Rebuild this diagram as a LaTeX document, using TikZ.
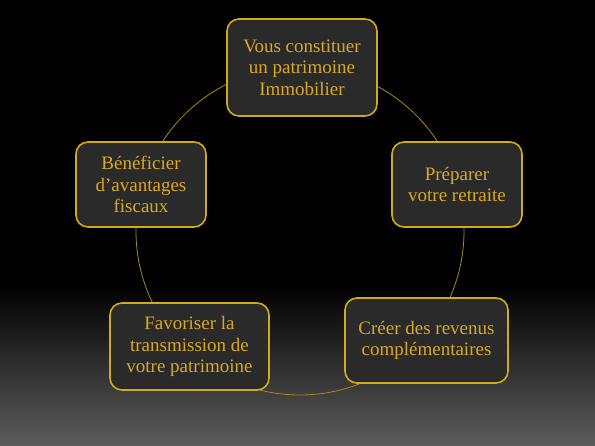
\documentclass[tikz,border=0pt]{standalone}
\usepackage{fontspec}
\setmainfont{Liberation Serif}
\definecolor{gold}{HTML}{D8A828}
\definecolor{goldborder}{HTML}{D2AA1E}
\definecolor{boxfill}{HTML}{2A2A2A}
\definecolor{ringcol}{HTML}{A8881E}
\definecolor{bottomgray}{HTML}{5C5C5C}
\begin{document}
\begin{tikzpicture}[x=1pt,y=-1pt,
  box/.style={draw=goldborder, line width=1.6pt, fill=boxfill, rounded corners=12pt,
    text=gold, align=center, font=\fontsize{19}{21.5}\selectfont, inner sep=0pt},
  ring/.style={draw=ringcol, line width=0.8pt}]
\useasboundingbox (0,0) rectangle (595,445);
\fill[black] (0,0) rectangle (595,285);
\shade[top color=black, bottom color=bottomgray] (0,285) rectangle (595,445);
\coordinate (C) at (300,231);
\draw[ring] (C) circle[radius=164pt];
\node[box, minimum width=150pt, minimum height=97pt] (n1) at (302,67.5) {Vous constituer\\un patrimoine\\Immobilier};
\node[box, minimum width=130pt, minimum height=85pt] (n2) at (457,184.5) {Préparer\\votre retraite};
\node[box, minimum width=163pt, minimum height=85pt] (n3) at (426.5,340.5) {Créer des revenus\\complémentaires};
\node[box, minimum width=159pt, minimum height=87pt] (n4) at (189.5,346.5) {Favoriser la\\transmission de\\votre patrimoine};
\node[box, minimum width=130pt, minimum height=85pt] (n5) at (141,184.5) {Bénéficier\\d’avantages\\fiscaux};
\end{tikzpicture}
\end{document}
